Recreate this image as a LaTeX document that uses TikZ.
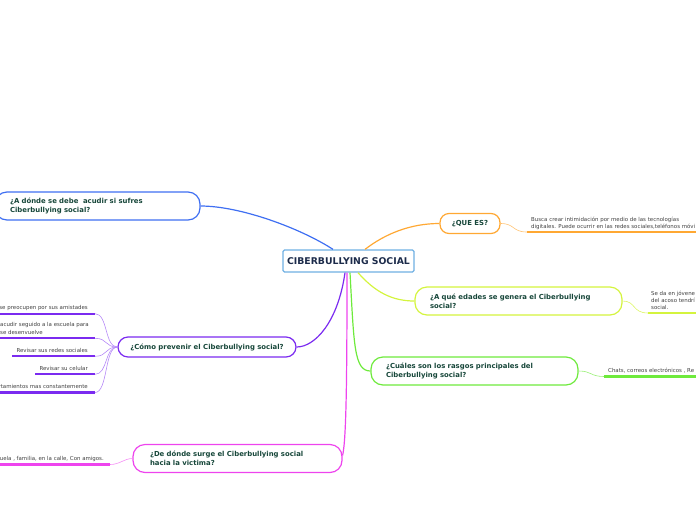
\documentclass[tikz,border=0pt]{standalone}
\usepackage{fontspec}
\setmainfont{DejaVu Sans}
\definecolor{blueC}{HTML}{3F6FF2}
\definecolor{orangeC}{HTML}{FFA833}
\definecolor{yellowC}{HTML}{D4F43E}
\definecolor{greenC}{HTML}{6EEA3C}
\definecolor{purpleC}{HTML}{7B2BF0}
\definecolor{magentaC}{HTML}{EE44EE}
\definecolor{rootC}{HTML}{6FB0E3}
\definecolor{rootT}{HTML}{1C2B4A}
\definecolor{nodeT}{HTML}{17473A}
\definecolor{smallT}{HTML}{404040}
\tikzset{
  topic/.style={draw, line width=1.2pt, fill=white, rounded corners=12pt, minimum height=28pt,
    inner xsep=15pt, inner ysep=0pt, align=left, text=nodeT,
    font=\fontsize{6.9}{8.8}\selectfont\bfseries},
  conn/.style={line width=1.2pt},
  subconn/.style={line width=0.6pt},
  uline/.style={line width=2.2pt},
  small/.style={inner sep=0pt, text=smallT, font=\fontsize{5.45}{7.6}\selectfont},
}
\begin{document}
\begin{tikzpicture}[x=1pt,y=-1pt]
\useasboundingbox (0,0) rectangle (696,520);

% root
\node[draw=rootC, line width=1.3pt, rounded corners=1.5pt, fill=white, minimum width=131pt, minimum height=22pt,
  inner sep=0pt, text=rootT, font=\fontsize{9.3}{10}\selectfont\bfseries] (root) at (348.5,261) {CIBERBULLYING SOCIAL};

% topics
\node[topic, draw=blueC, text width=175pt] (blue) at (97.5,206) {¿A dónde se debe\ \ acudir si sufres\\Ciberbullying social?};
\node[topic, draw=orangeC, rounded corners=9pt, minimum width=60pt, minimum height=20pt, inner xsep=0pt, align=center] (que) at (470,223.5) {¿QUE ES?};
\node[topic, draw=yellowC, text width=177pt] (edad) at (518.5,301) {¿A qué edades se genera el Ciberbullying\\social?};
\node[topic, draw=greenC, text width=177pt] (rasgo) at (474.5,371) {¿Cuáles son los rasgos principales del\\Ciberbullying social?};
\node[topic, draw=purpleC, rounded corners=10pt, minimum width=178pt, minimum height=20pt, inner xsep=0pt, align=center] (prev) at (207,347) {¿Cómo prevenir el Ciberbullying social?};
\node[topic, draw=magentaC, inner xsep=17pt, text width=175pt] (surge) at (237.5,458.5) {¿De dónde surge el Ciberbullying social\\hacia la victima?};

% main connectors
\draw[conn, blueC] ([xshift=-15.5pt]root.north) .. controls (300,228) and (240,206) .. (blue.east);
\draw[conn, orangeC] ([xshift=16.5pt]root.north) .. controls (385,234) and (410,223.5) .. (que.west);
\draw[conn, yellowC] ([xshift=9.5pt]root.south) .. controls (375,292) and (392,301) .. (edad.west);
\draw[conn, greenC] ([xshift=1.5pt]root.south) .. controls (354,345) and (354,371) .. (rasgo.west);
\draw[conn, purpleC] ([xshift=-3.5pt]root.south) .. controls (338,322) and (315,347) .. (prev.east);
\draw[conn, magentaC] ([xshift=-1.5pt]root.south) .. controls (347,390) and (346,440) .. ([yshift=3pt]surge.east);

% QUE ES answer
\coordinate (qa) at (527,232);
\coordinate (qb) at (700,232);
\draw[subconn, orangeC!70] (que.east) .. controls (515,223.5) and (512,232) .. (qa);
\draw[uline, orangeC] (qa) -- (qb);
\node[small, anchor=base west, align=left] (queT) at (531,228.8) {Busca crear intimidación por medio de las tecnologías\\digitales. Puede ocurrir en las redes sociales,teléfonos móvi};

% edades answer
\coordinate (ea) at (648,313);
\coordinate (eb) at (700,313);
\draw[subconn, yellowC!80] (edad.east) .. controls (636,301) and (632,313) .. (ea);
\draw[uline, yellowC] (ea) -- (eb);
\node[small, anchor=base west, align=left, font=\fontsize{5.45}{7}\selectfont] (edadT) at (651,309.5) {Se da en jóvene\\del acoso tendrí\\social.};

% rasgos answer
\coordinate (ra) at (604,376.5);
\coordinate (rb) at (700,376.5);
\draw[subconn, greenC!70] (rasgo.east) .. controls (592,371) and (590,376.5) .. (ra);
\draw[uline, greenC] (ra) -- (rb);
\node[small, anchor=base west] (rasgoT) at (608,372.8) {Chats, correos electrónicos , Re};

% prevenir items
\coordinate (p1) at (95,313.7);  \coordinate (p1s) at (-3,313.7);
\coordinate (p2) at (95,338.3);  \coordinate (p2s) at (-3,338.3);
\coordinate (p3) at (95,356.3);  \coordinate (p3s) at (12,356.3);
\coordinate (p4) at (95,374.3);  \coordinate (p4s) at (35,374.3);
\coordinate (p5) at (95,392.5);  \coordinate (p5s) at (-3,392.5);
\foreach \p in {p1,p2,p3,p4,p5}{
  \draw[subconn, purpleC!55] (prev.west) .. controls +(-13,0) and +(13,0) .. (\p);
  \draw[uline, purpleC] (\p s) -- (\p);
}
\node[small, anchor=base east] (pt1) at (88,309.6) {se preocupen por sus amistades};
\node[small, anchor=base west, align=left] (pt2) at (0,334.4) {acudir seguido a la escuela para\\se desenvuelve};
\node[small, anchor=base east] (pt3) at (88,352.2) {Revisar sus redes sociales};
\node[small, anchor=base east] (pt4) at (88,370.2) {Revisar su celular};
\node[small, anchor=base east] (pt5) at (88,388.2) {rtamientos mas constantemente};

% surge answer
\coordinate (sa) at (110,464.5);
\coordinate (sb) at (-3,464.5);
\draw[subconn, magentaC!60] (surge.west) .. controls (124,458.5) and (120,464.5) .. (sa);
\draw[uline, magentaC] (sb) -- (sa);
\node[small, anchor=base east] (surgeT) at (104,460.2) {uela , familia, en la calle, Con amigos.};
\end{tikzpicture}
\end{document}
